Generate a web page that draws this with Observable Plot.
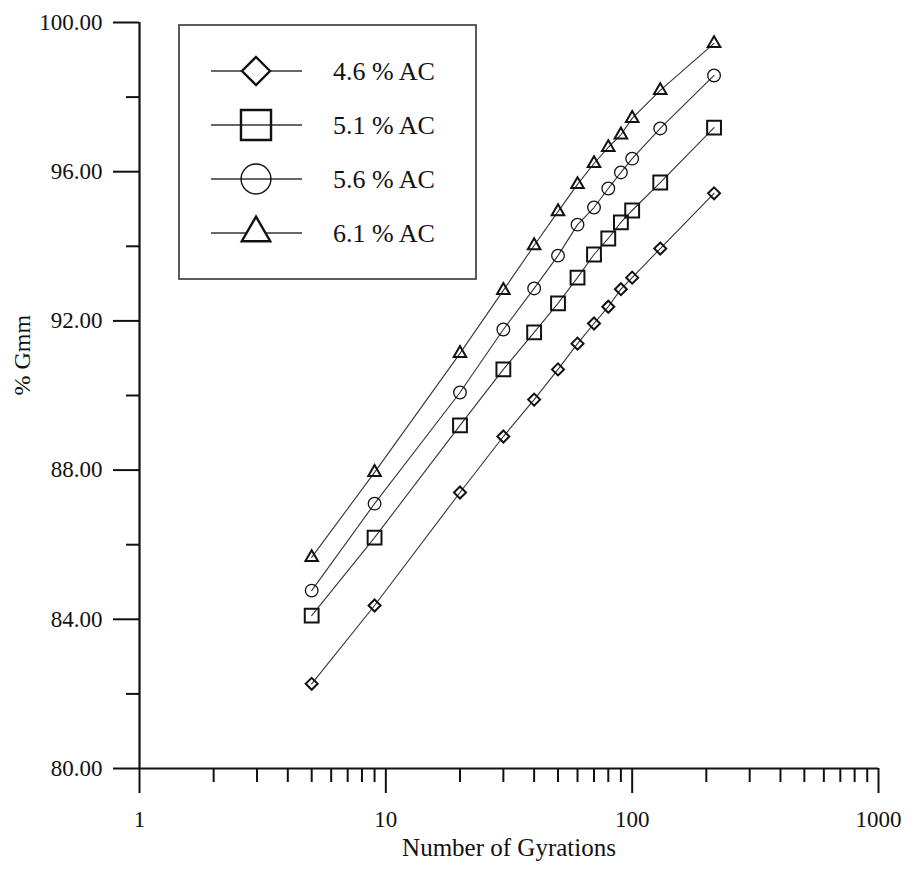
<!DOCTYPE html>
<html>
<head>
<meta charset="utf-8">
<script src="https://cdn.jsdelivr.net/npm/d3@7"></script>
<script src="https://cdn.jsdelivr.net/npm/@observablehq/plot@0.6"></script>
<style>
  html, body { margin: 0; padding: 0; background: #fff; }
  #chart { position: relative; width: 914px; height: 881px; }
</style>
</head>
<body>
<div id="chart"></div>
<script>
// ---- data ----
const gyrations = [5, 9, 20, 30, 40, 50, 60, 70, 80, 90, 100, 130, 215];
const seriesNames = ["4.6 % AC", "5.1 % AC", "5.6 % AC", "6.1 % AC"];
const ac46 = [82.27, 84.37, 87.40, 88.90, 89.89, 90.70, 91.39, 91.93, 92.38, 92.85, 93.16, 93.94, 95.42];
const ac51 = [84.10, 86.19, 89.20, 90.70, 91.69, 92.47, 93.16, 93.78, 94.21, 94.64, 94.96, 95.71, 97.18];
const ac56 = [84.77, 87.10, 90.08, 91.77, 92.87, 93.75, 94.58, 95.04, 95.55, 95.98, 96.35, 97.16, 98.58];
const ac61 = [85.66, 87.94, 91.13, 92.82, 94.02, 94.93, 95.66, 96.22, 96.65, 96.99, 97.43, 98.18, 99.44];
const xMajorTicks = [1, 10, 100, 1000];
const xMinorTicks = [2,3,4,5,6,7,8,9,20,30,40,50,60,70,80,90,200,300,400,500,600,700,800,900];
const yMajorTicks = [80, 84, 88, 92, 96, 100];
const yMinorTicks = [82, 86, 90, 94, 98];
const xTitle = "Number of Gyrations";
const yTitle = "% Gmm";

// ---- build table ----
const seriesValues = [ac46, ac51, ac56, ac61];
const rows = [];
seriesNames.forEach((s, i) => {
  gyrations.forEach((n, j) => rows.push({series: s, n, gmm: seriesValues[i][j]}));
});

const symbols = ["diamond2", "square2", "circle", "triangle2"];
const dotR = [5.4, 8.8, 6.3, 6.0];
const dotSW = [2, 2, 1.3, 2];
const font = "'Liberation Serif', 'Times New Roman', serif";

const plot = Plot.plot({
  width: 914,
  height: 881,
  marginLeft: 139,
  marginRight: 36,
  marginTop: 22,
  marginBottom: 113,
  style: {fontFamily: font, color: "#111", background: "#fff"},
  x: {type: "log", domain: [1, 1000]},
  y: {domain: [80, 100]},
  marks: [
    Plot.axisY({ticks: yMajorTicks, tickSize: 26, tickPadding: 11, tickFormat: d => d.toFixed(2),
      fontSize: 23, strokeWidth: 2, label: null}),
    Plot.axisY({ticks: yMinorTicks, tickSize: 13, tickFormat: () => "", strokeWidth: 2, label: null}),
    Plot.axisX({ticks: xMajorTicks, tickSize: 25, tickPadding: 17, tickFormat: d => String(d),
      fontSize: 23, strokeWidth: 2, label: null}),
    Plot.axisX({ticks: xMinorTicks, tickSize: 14, tickFormat: () => "", strokeWidth: 2, label: null}),
    Plot.ruleY([80], {stroke: "#111", strokeWidth: 2.2}),
    Plot.ruleX([1], {y1: 80, y2: 100, stroke: "#111", strokeWidth: 2.2}),
    Plot.text([xTitle], {frameAnchor: "bottom", dy: 79, fontSize: 25, lineAnchor: "middle", fill: "#111"}),
    Plot.text([yTitle], {frameAnchor: "left", dx: -117, rotate: -90, fontSize: 24, lineAnchor: "middle", fill: "#111"}),
    Plot.line(rows, {x: "n", y: "gmm", z: "series", stroke: "#333", strokeWidth: 1.1}),
    ...seriesNames.map((s, i) => Plot.dot(rows, {
      filter: d => d.series === s, x: "n", y: "gmm",
      symbol: () => symbols[i], r: dotR[i], stroke: "#111", strokeWidth: dotSW[i], fill: "none"
    }))
  ]
});
document.getElementById("chart").appendChild(plot);

// ---- legend (inside the plot area, top-left) ----
const svg = d3.select(plot);
const lg = svg.append("g").attr("class", "legend").attr("text-anchor", "start");
lg.append("rect").attr("x", 179).attr("y", 25).attr("width", 297).attr("height", 254)
  .attr("fill", "none").attr("stroke", "#333").attr("stroke-width", 1.6);
const legSym = [d3.symbolDiamond2, d3.symbolSquare2, d3.symbolCircle, d3.symbolTriangle2];
const legSize = [500, 1150, 700, 580];
const legSW = [2.4, 2.4, 1.4, 2.4];
const legFill = ["#fff", "none", "none", "#fff"];
seriesNames.forEach((s, i) => {
  const cy = 71 + i * 54;
  lg.append("line").attr("x1", 211).attr("x2", 302).attr("y1", cy).attr("y2", cy)
    .attr("stroke", "#333").attr("stroke-width", 1.3);
  lg.append("path").attr("d", d3.symbol(legSym[i], legSize[i])())
    .attr("transform", `translate(256,${cy})`)
    .attr("fill", legFill[i]).attr("stroke", "#111").attr("stroke-width", legSW[i]);
  lg.append("text").attr("x", 333).attr("y", cy).attr("dy", "0.35em")
    .attr("text-anchor", "start")
    .attr("font-size", 26).attr("font-family", font).attr("fill", "#111").text(s);
});
</script>
</body>
</html>
